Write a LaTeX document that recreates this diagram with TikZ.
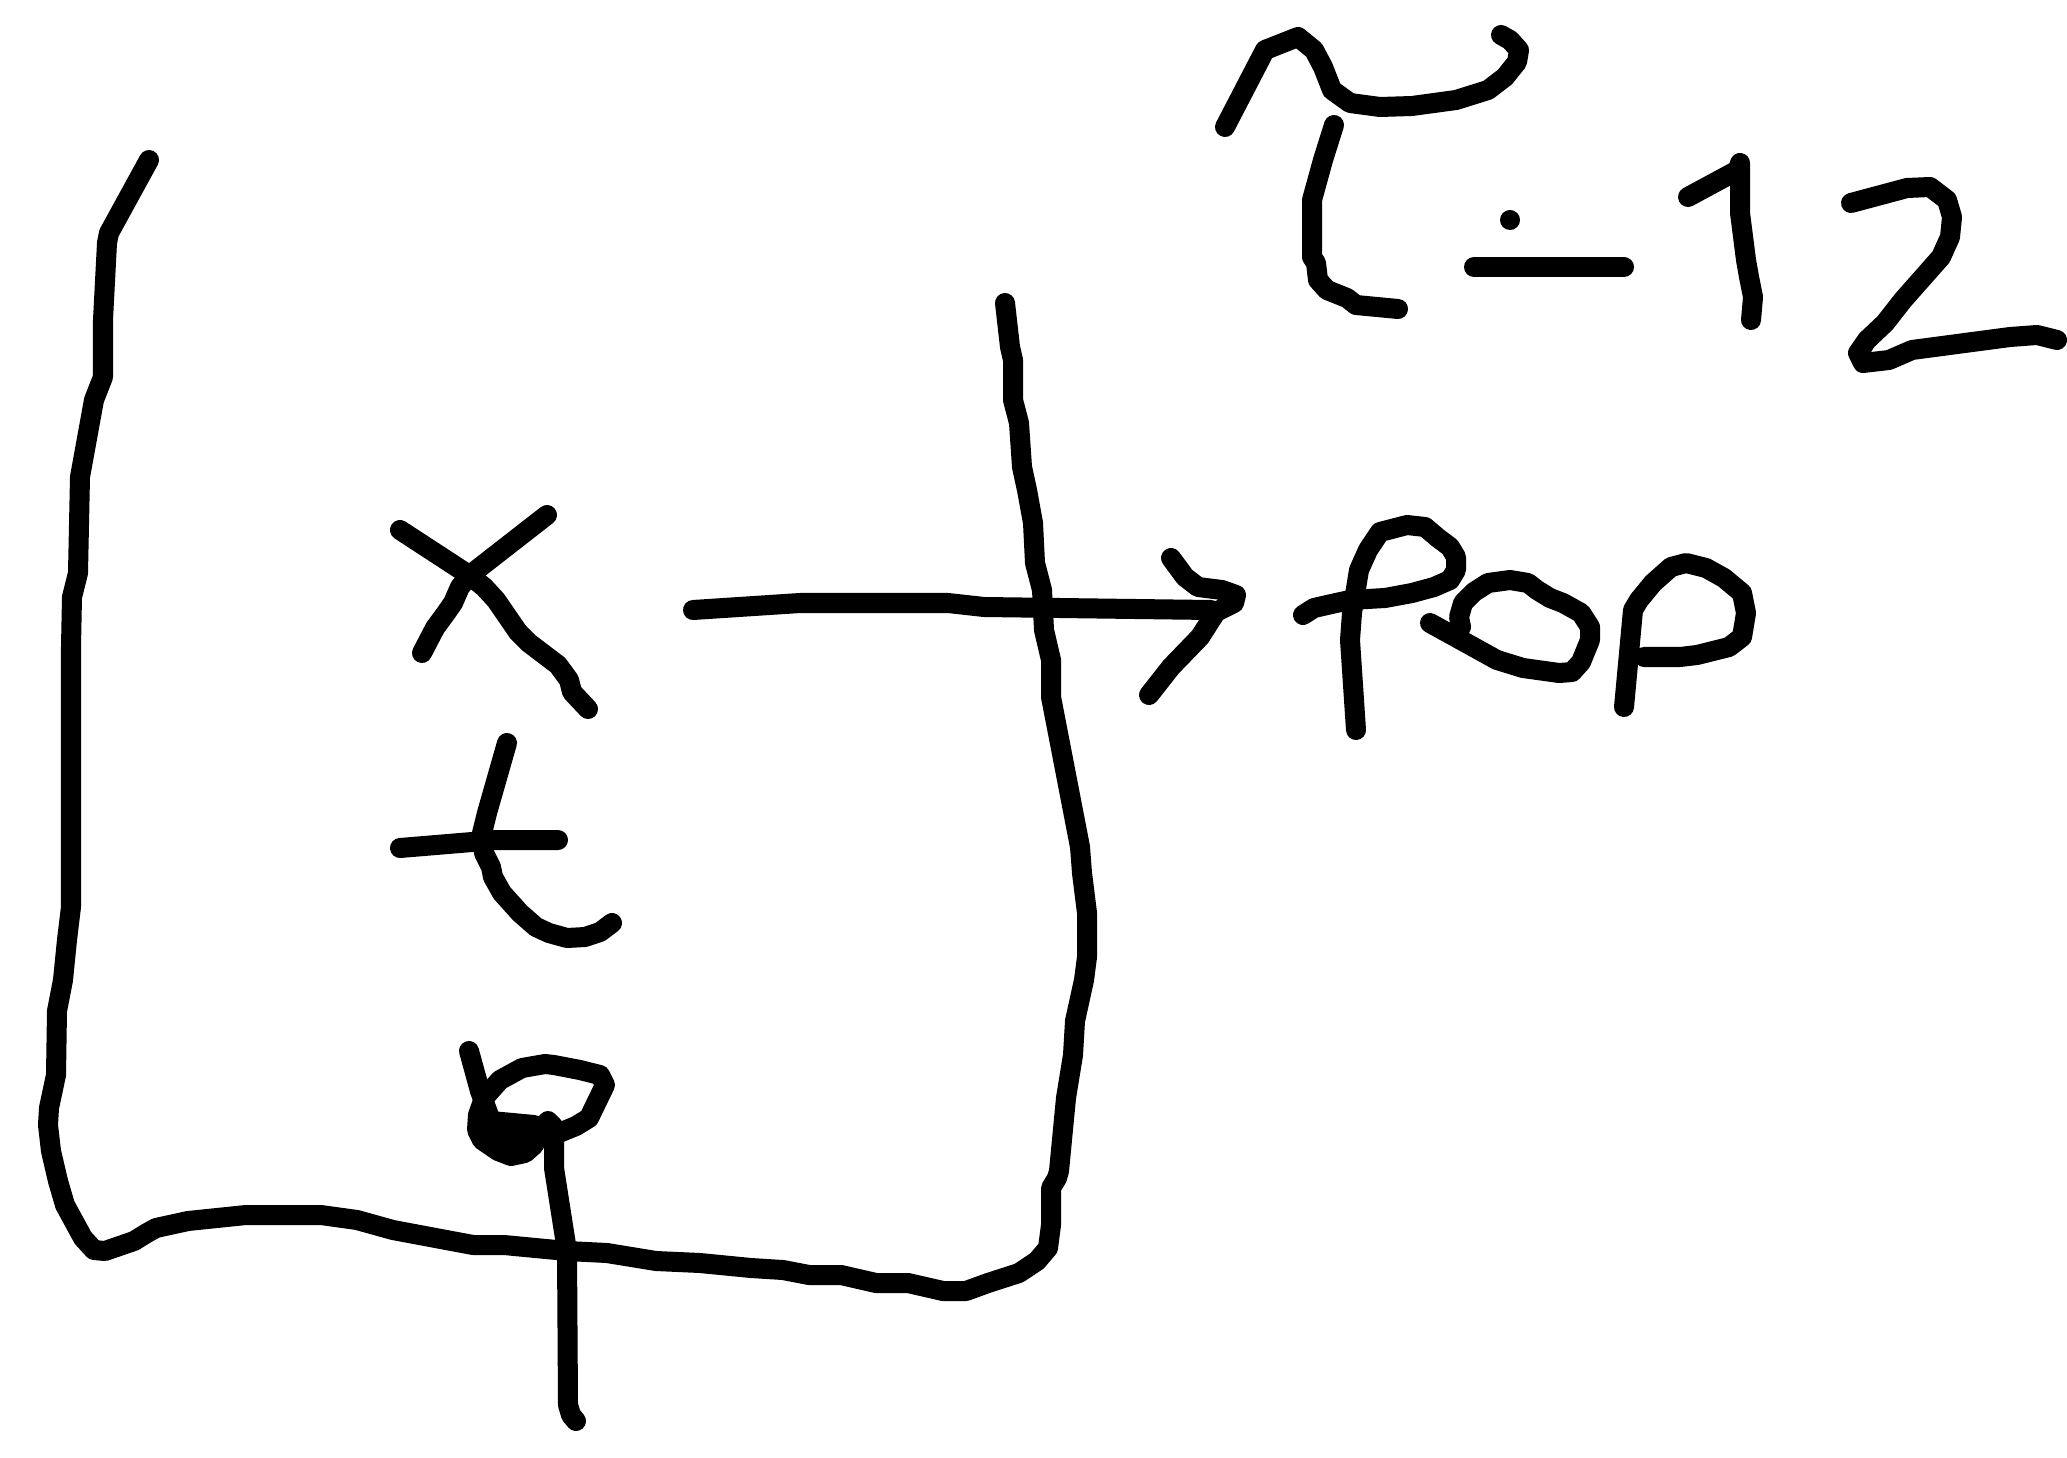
\documentclass[tikz,border=0pt]{standalone}
\usepackage{tikz}
\begin{document}
\begin{tikzpicture}[
  x=0.01cm,y=-0.01cm,
  pen/.style={draw=black,line width=0.2cm,line cap=round,line join=round}
]
\fill[white] (0,0) rectangle (2067,1458);
\useasboundingbox (0,0) rectangle (2067,1458);
% frame stroke
\draw[pen] (149,160)--(109,233)--(107,243)--(103,320)--(103,377)--(94,400)--(80,477)--(78,573)--(72,597)--(71,647)
  --(71,907)--(67,940)--(63,980)--(57,1011)--(56,1075)--(49,1108)--(48,1125)--(51,1151)--(58,1181)--(65,1205)
  --(83,1238)--(94,1250)--(105,1251)--(134,1241)--(147,1233)--(156,1228)--(188,1221)--(246,1215)--(321,1215)
  --(357,1220)--(393,1230)--(473,1245)--(504,1245)--(567,1251)--(607,1253)--(656,1261)--(700,1263)--(751,1268)
  --(783,1270)--(809,1275)--(841,1275)--(876,1283)--(908,1283)--(943,1291)--(966,1291)--(988,1283)--(1019,1273)
  --(1037,1261)--(1048,1248)--(1051,1225)--(1051,1188)--(1057,1178)--(1059,1171)--(1066,1098)--(1073,1055)
  --(1075,1021)--(1084,980)--(1087,957)--(1087,913)--(1082,873)--(1080,847)--(1051,697)--(1051,660)--(1044,630)
  --(1042,590)--(1035,563)--(1033,523)--(1027,490)--(1022,467)--(1019,423)--(1013,400)--(1013,360)--(1010,347)--(1005,303);
% arrow
\draw[pen] (693,610)--(800,603)--(948,603)--(984,607)--(1211,610);
\draw[pen] (1171,558)--(1185,577)--(1198,587)--(1222,590)--(1236,595)--(1234,603)--(1216,612)--(1200,637)--(1171,667)--(1149,695);
% x
\draw[pen] (400,530)--(469,575)--(484,587)--(496,600)--(518,632)--(529,643)--(558,665)--(569,680)--(572,692)--(588,709);
\draw[pen] (547,515)--(470,575)--(460,587)--(453,603)--(446,613)--(435,628)--(422,653);
% t
\draw[pen] (507,743)--(487,813)--(482,833)--(484,853)--(491,867)--(493,877)--(502,893)--(520,913)--(536,927)
  --(549,933)--(567,938)--(585,937)--(600,932)--(612,923);
\draw[pen] (400,848)--(496,840)--(558,840);
% phi
\draw[pen] (469,1051)--(480,1091)--(491,1121)--(534,1125);
\fill (479,1100)--(491,1121)--(534,1125)--(538,1134)--(525,1153)--(511,1156)--(498,1151)--(482,1140)--(477,1128)--cycle;
\draw[pen] (554,1135)--(576,1126)--(589,1118)--(605,1085)--(600,1075)--(580,1070)--(554,1065)--(545,1064)--(522,1068)
  --(500,1080)--(484,1098)--(478,1115)--(477,1130)--(482,1140)--(498,1151)--(511,1156)--(525,1153)--(534,1145)
  --(540,1130)--(548,1121)--(553,1126)--(554,1141)--(554,1168)--(567,1251)--(568,1405)--(571,1415)--(576,1421);
% tilde
\draw[pen] (1225,127)--(1265,50)--(1298,37)--(1314,50)--(1323,67)--(1332,90)--(1350,103)--(1380,107)--(1412,106)
  --(1456,100)--(1488,90)--(1505,77)--(1517,62)--(1519,50)--(1510,40)--(1501,35);
% tau
\draw[pen] (1334,125)--(1323,160)--(1312,200)--(1312,257)--(1316,263)--(1318,280)--(1327,290)--(1347,298)--(1356,305)--(1398,309);
% divide
\fill (1510,220) circle (0.1cm);
\draw[pen] (1474,267)--(1624,267);
% 1
\draw[pen] (1688,197)--(1738,170)--(1740,163)--(1740,213)--(1746,260)--(1749,277)--(1753,297)--(1751,320);
% 2
\draw[pen] (1851,203)--(1907,188)--(1930,187)--(1947,200)--(1952,217)--(1950,237)--(1941,257)--(1903,300)--(1885,323)
  --(1867,340)--(1858,353)--(1863,363)--(1889,360)--(1912,350)--(2010,337)--(2037,335)--(2057,340);
% first p
\draw[pen] (1356,730)--(1350,640)--(1352,613)--(1359,570)--(1368,550)--(1380,532)--(1407,525)--(1425,527)--(1438,538)
  --(1450,547)--(1456,557)--(1456,570)--(1450,580)--(1434,587)--(1412,593)--(1385,598)--(1350,600)--(1336,603)--(1314,608)--(1303,615);
% e
\draw[pen] (1430,623)--(1497,660)--(1523,668)--(1559,673)--(1572,672)--(1581,662)--(1590,640)--(1590,627)--(1581,613)
  --(1563,603)--(1550,598)--(1537,590)--(1528,583)--(1510,580)--(1488,583)--(1474,592)--(1463,603)--(1459,617)--(1461,627);
% second p
\draw[pen] (1624,707)--(1633,610)--(1639,600)--(1653,583)--(1671,567)--(1686,563)--(1706,568)--(1724,578)--(1742,593)
  --(1746,613)--(1742,637)--(1729,647)--(1697,655)--(1680,657)--(1644,657);
\end{tikzpicture}
\end{document}
